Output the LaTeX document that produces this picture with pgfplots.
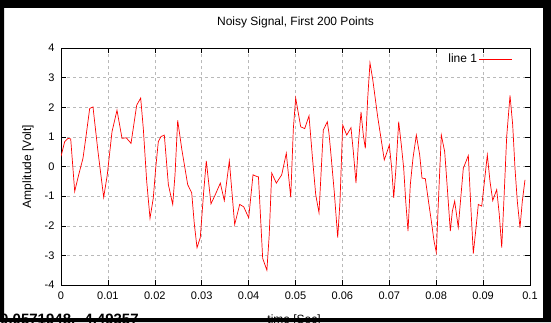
\documentclass[border=0pt]{standalone}
\usepackage{pgfplots}
\pgfplotsset{compat=1.18}
\usepackage{fontspec}
\setmainfont{Liberation Sans}
\begin{document}
\begin{tikzpicture}[x=1pt,y=1pt]
\useasboundingbox (0,0) rectangle (551,322);
\clip (0,0) rectangle (551,322);
\fill[white] (0,0) rectangle (551,322);
\begin{axis}[
  at={(61pt,37pt)}, anchor=south west,
  scale only axis, width=469pt, height=237pt,
  xmin=0, xmax=0.1, ymin=-4, ymax=4,
  xtick={0,0.01,0.02,0.03,0.04,0.05,0.06,0.07,0.08,0.09,0.1},
  xticklabels={0,0.01,0.02,0.03,0.04,0.05,0.06,0.07,0.08,0.09,0.1},
  ytick={-4,-3,-2,-1,0,1,2,3,4},
  yticklabels={-4,-3,-2,-1,0,1,2,3,4},
  scaled x ticks=false,
  tick align=inside,
  major tick length=5pt,
  tick style={black, line width=0.5pt},
  axis line style={black, line width=0.6pt},
  grid=major,
  major grid style={gray!55, line width=0.5pt, dash pattern=on 3pt off 3pt},
  ticklabel style={font=\fontsize{11}{13}\selectfont},
  xticklabel style={yshift=-3pt},
  yticklabel style={xshift=-3pt},
  title={Noisy Signal, First 200 Points},
  title style={font=\fontsize{12}{14}\selectfont, at={(axis description cs:0.5,1.084)}, anchor=center, yshift=0pt},
  xlabel={time [Sec]},
  xlabel style={font=\fontsize{12}{14}\selectfont, at={(axis description cs:0.497,-0.163)}, anchor=base},
  ylabel={Amplitude [Volt]},
  ylabel style={font=\fontsize{12}{14}\selectfont, at={(axis description cs:-0.0704,0.5)}, anchor=center},
  legend plot pos=right,
  legend image code/.code={\draw[#1] (0pt,0pt) -- (33pt,0pt);},
  legend style={at={(axis description cs:1,1)}, anchor=north east, draw=none, fill=none,
    xshift=-14pt, yshift=-2pt, font=\fontsize{12}{14}\selectfont},
]
\addplot[red, line width=0.7pt] coordinates {
(0.0000,0.34) (0.00079,0.84) (0.0015,0.95) (0.00207,0.93) (0.00292,-0.84)
(0.00377,-0.28) (0.00469,0.28) (0.00518,0.84) (0.00612,1.96) (0.00682,2.01)
(0.00789,0.50) (0.0091,-1.04) (0.00987,-0.28) (0.01087,1.17) (0.01194,1.90)
(0.01301,0.95) (0.01392,0.97) (0.01493,0.78) (0.01614,2.07) (0.01699,2.31)
(0.01755,1.28) (0.01827,-0.50) (0.01898,-1.75) (0.01968,-1.06) (0.02019,-0.06)
(0.02075,0.84) (0.02132,1.01) (0.02203,1.06) (0.02289,-0.61) (0.02382,-1.28)
(0.02431,-0.28) (0.02488,1.56) (0.02573,0.61) (0.02701,-0.61) (0.02787,-0.89)
(0.0284,-1.9) (0.0290,-2.74) (0.0297,-2.40) (0.03043,-0.84) (0.03098,0.19)
(0.03198,-1.26) (0.0329,-0.95) (0.03397,-0.56) (0.03482,-1.15) (0.03589,0.19)
(0.03703,-1.96) (0.0381,-1.28) (0.03895,-1.36) (0.04002,-1.73) (0.04094,-0.28)
(0.04179,-0.34) (0.0421,-0.35) (0.0430,-3.1) (0.0439,-3.5) (0.0444,-2.3)
(0.04493,-0.22) (0.04591,-0.56) (0.04706,-0.28) (0.04804,0.45) (0.04898,-1.04)
(0.04954,1.28) (0.05004,2.31) (0.05111,1.34) (0.05196,1.28) (0.05288,1.71)
(0.05359,0.34) (0.05431,-0.95) (0.05501,-1.56) (0.05593,1.23) (0.05678,1.51)
(0.05714,1.12) (0.05757,0.39) (0.05828,-0.89) (0.0590,-2.40) (0.05949,-1.17)
(0.06006,1.40) (0.06092,1.06) (0.06183,1.31) (0.06233,0.50) (0.0629,-0.56)
(0.06339,0.73) (0.06397,1.84) (0.06446,1.06) (0.06489,0.61) (0.06539,2.29)
(0.06588,3.50) (0.06645,2.96) (0.06752,1.68) (0.06823,0.95) (0.06893,0.22)
(0.06966,0.56) (0.0700,0.73) (0.07051,-0.06) (0.07094,-1.06) (0.07140,-0.1)
(0.0720,1.51) (0.07256,0.73) (0.07307,-0.06) (0.0735,-1.17) (0.07399,-2.18)
(0.07448,-0.61) (0.07505,0.28) (0.07576,1.06) (0.07648,0.39) (0.07697,-0.39)
(0.07768,-0.41) (0.07825,-1.06) (0.07896,-1.84) (0.07953,-2.51) (0.08002,-2.90)
(0.08053,-0.95) (0.08109,1.06) (0.08181,0.50) (0.08237,-0.73) (0.08301,-2.18)
(0.08344,-1.51) (0.08394,-1.17) (0.08470,-2.05) (0.08578,-0.06) (0.08685,0.37)
(0.08736,-1.28) (0.08791,-2.94) (0.08849,-2.07) (0.08898,-1.28) (0.0897,-1.34)
(0.0904,-0.34) (0.0909,0.39) (0.09147,-0.50) (0.09205,-1.15) (0.0929,-0.78)
(0.09345,-1.62) (0.09397,-2.74) (0.09452,-0.84) (0.09503,1.01) (0.09574,2.40)
(0.09631,1.40) (0.0968,-0.06) (0.09729,-1.17) (0.09787,-2.07) (0.09836,-1.17)
(0.09893,-0.45)
};
\addlegendentry{line 1}
\end{axis}
\node[anchor=base west, inner sep=0pt, font=\bfseries\fontsize{15}{17}\selectfont] at (0,-2.5) {0.0571948, -4.49357};
\fill[black, even odd rule] (0,0) rectangle (551,322) (4,4) rectangle (543,314);
\end{tikzpicture}
\end{document}
